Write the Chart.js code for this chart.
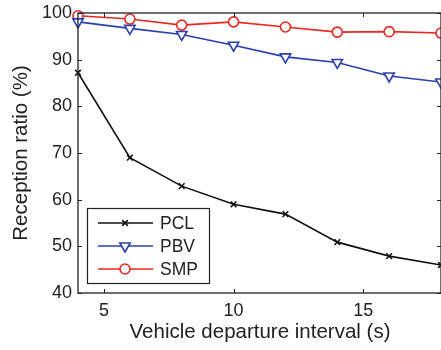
<!DOCTYPE html>
<html>
<head>
<meta charset="utf-8">
<script src="https://cdn.jsdelivr.net/npm/chart.js@4.4.1/dist/chart.umd.min.js"></script>
<style>
  html, body { margin: 0; padding: 0; background: #fff; }
  #wrap { width: 441px; height: 350px; }
</style>
</head>
<body>
<div id="wrap"><canvas id="myChart"></canvas></div>
<script>
// departure interval (s)
const intervals = [4, 6, 8, 10, 12, 14, 16, 18];
const pcl = [87.2, 69.0, 62.9, 59.0, 56.9, 50.9, 47.9, 46.0];
const pbv = [98.1, 96.7, 95.4, 93.1, 90.6, 89.4, 86.5, 85.2];
const smp = [99.4, 98.7, 97.4, 98.1, 97.0, 95.9, 96.0, 95.7];
const xTicks = [5, 10, 15];
const yTicks = [40, 50, 60, 70, 80, 90, 100];
const xTitle = "Vehicle departure interval (s)";
const yTitle = "Reception ratio (%)";

const FONT = "'Liberation Sans', Arial, sans-serif";
const TEXT = "#222";
const BLACK = "#111111";
const BLUE = "#2a3fae";
const RED = "#e8291f";

function pts(ys) {
  return intervals.map((x, i) => ({ x: x, y: ys[i] }));
}

const series = [
  { label: "PCL", data: pcl, color: BLACK, style: "crossRot", radius: 4, rot: 0 },
  { label: "PBV", data: pbv, color: BLUE, style: "triangle", radius: 6, rot: 180 },
  { label: "SMP", data: smp, color: RED, style: "circle", radius: 5, rot: 0 },
];

// box, inward ticks on all four sides, axis titles and legend
const matlabAxes = {
  id: "matlabAxes",
  afterDraw(chart) {
    const ctx = chart.ctx;
    const a = chart.chartArea;
    const xs = chart.scales.x, ys = chart.scales.y;
    ctx.save();
    ctx.strokeStyle = "#222";
    ctx.lineWidth = 1.3;
    ctx.strokeRect(a.left, a.top, a.right - a.left, a.bottom - a.top);
    ctx.beginPath();
    xTicks.forEach(v => {
      const px = Math.round(xs.getPixelForValue(v)) + 0.5;
      ctx.moveTo(px, a.bottom); ctx.lineTo(px, a.bottom - 4);
      ctx.moveTo(px, a.top); ctx.lineTo(px, a.top + 4);
    });
    yTicks.forEach(v => {
      const py = Math.round(ys.getPixelForValue(v)) + 0.5;
      ctx.moveTo(a.left, py); ctx.lineTo(a.left + 4, py);
      ctx.moveTo(a.right, py); ctx.lineTo(a.right - 4, py);
    });
    ctx.lineWidth = 1;
    ctx.stroke();

    // axis titles
    ctx.fillStyle = TEXT;
    ctx.font = "20.5px " + FONT;
    ctx.textAlign = "center";
    ctx.textBaseline = "alphabetic";
    ctx.fillText(xTitle, 260, 338);
    ctx.save();
    ctx.translate(27, (a.top + a.bottom) / 2);
    ctx.rotate(-Math.PI / 2);
    ctx.fillText(yTitle, 0, 0);
    ctx.restore();

    // legend
    const lx = 87, ly = 208, lw = 122, lh = 75;
    ctx.fillStyle = "#fff";
    ctx.fillRect(lx, ly, lw, lh);
    ctx.strokeStyle = "#222";
    ctx.lineWidth = 1.2;
    ctx.strokeRect(lx + 0.5, ly + 0.5, lw, lh);
    series.forEach((s, i) => {
      const y = ly + 15 + i * 23;
      ctx.strokeStyle = s.color;
      ctx.lineWidth = 1.6;
      ctx.beginPath();
      ctx.moveTo(lx + 11, y); ctx.lineTo(lx + 66, y);
      ctx.stroke();
      ctx.fillStyle = "#fff";
      Chart.helpers.drawPoint(ctx, {
        pointStyle: s.style, radius: s.radius, rotation: s.rot, borderWidth: 1.6
      }, lx + 38, y);
      ctx.fillStyle = TEXT;
      ctx.font = "17.5px " + FONT;
      ctx.textAlign = "left";
      ctx.textBaseline = "middle";
      ctx.fillText(s.label, lx + 73, y + 1);
    });
    ctx.restore();
  }
};

new Chart(document.getElementById("myChart"), {
  type: "line",
  data: {
    datasets: series.map(s => ({
      label: s.label,
      data: pts(s.data),
      borderColor: s.color,
      backgroundColor: "#fff",
      borderWidth: 1.6,
      pointStyle: s.style,
      pointRadius: s.radius,
      pointRotation: s.rot,
      pointBorderColor: s.color,
      pointBackgroundColor: "#fff",
      pointBorderWidth: 1.6,
      tension: 0,
      clip: 8,
    })),
  },
  options: {
    responsive: true,
    maintainAspectRatio: false,
    animation: false,
    layout: { autoPadding: false, padding: { top: 13, right: 0, left: 0, bottom: 0 } },
    plugins: { legend: { display: false }, tooltip: { enabled: false } },
    scales: {
      x: {
        type: "linear",
        min: 4,
        max: 18,
        afterBuildTicks(scale) { scale.ticks = xTicks.map(v => ({ value: v })); },
        afterFit(scale) {
          scale.height = 57;
          scale.paddingLeft = 0;
          scale.paddingRight = 0;
        },
        grid: { display: false, drawTicks: false },
        border: { display: false },
        ticks: { color: TEXT, font: { family: FONT, size: 18 }, padding: 7, maxRotation: 0 },
      },
      y: {
        min: 40,
        max: 100,
        afterBuildTicks(scale) { scale.ticks = yTicks.map(v => ({ value: v })); },
        afterFit(scale) {
          scale.width = 78;
          scale.paddingTop = 0;
          scale.paddingBottom = 0;
        },
        grid: { display: false, drawTicks: false },
        border: { display: false },
        ticks: { color: TEXT, font: { family: FONT, size: 18 }, padding: 6 },
      },
    },
  },
  plugins: [matlabAxes],
});
</script>
</body>
</html>
